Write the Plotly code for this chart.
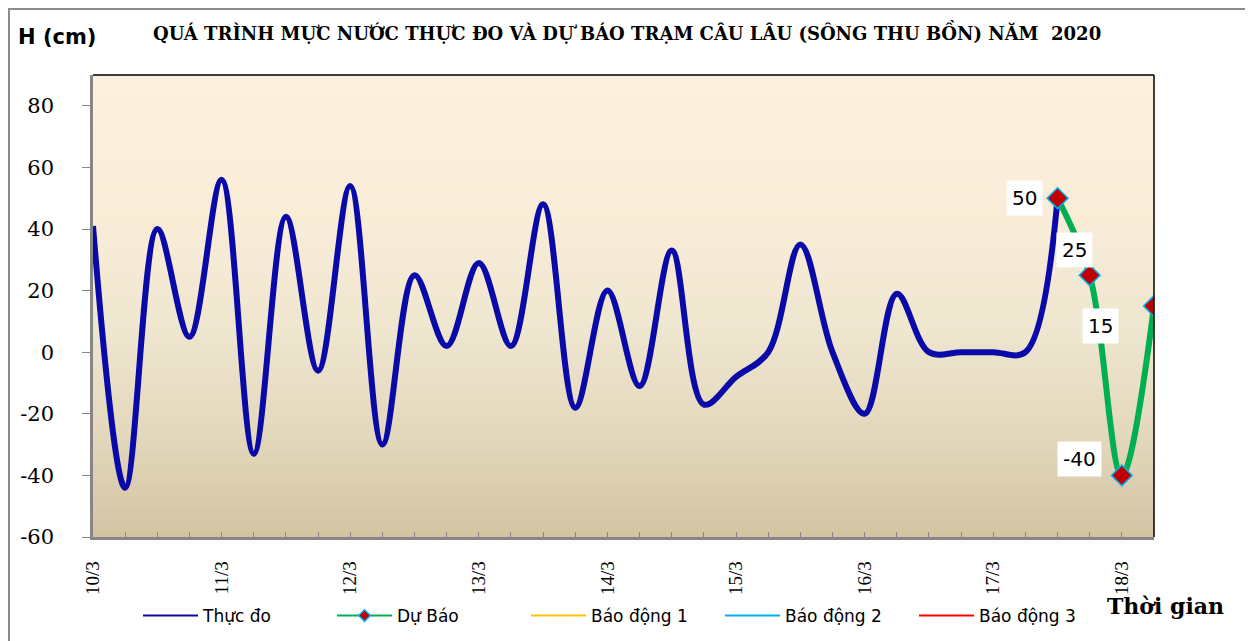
import plotly.graph_objects as go

# ---------------------------------------------------------------------------
# Data (6-hourly steps, 10/3 -> 18/3)
# ---------------------------------------------------------------------------
day_labels = ["10/3", "11/3", "12/3", "13/3", "14/3", "15/3", "16/3", "17/3", "18/3"]
steps_per_day = 4
y_ticks = [-60, -40, -20, 0, 20, 40, 60, 80]

thuc_do = [41, -44, 40, 5, 56, -33, 44, -6, 54, -30, 25, 2, 29, 2, 48, -18,
           20, -11, 33, -17, -8, 0, 35, 0, -20, 19, 0, 0, 0, 0, 50]
du_bao = [50, 25, -40, 15]
du_bao_start = len(thuc_do) - 1

x_thuc_do = list(range(len(thuc_do)))
x_du_bao = [du_bao_start + i for i in range(len(du_bao))]

# label offsets (px) for the forecast values
label_shift = [(-33, 0), (-15, 25), (-42, 16), (-54, -20)]

# ---------------------------------------------------------------------------
# Style
# ---------------------------------------------------------------------------
NAVY = "#0A0AA8"
GREEN = "#00B050"
SERIF = "DejaVu Serif, serif"
SANS = "DejaVu Sans, Arial, sans-serif"
TIMES = "Liberation Serif, Times New Roman, serif"

OFF = 8                     # page margin of the html body
W, H = 1245, 633
L, R, T, B = 85, 99, 67, 104


def px_x(px):
    # screen pixel -> paper x
    return (px - OFF - L) / (W - L - R)


def px_y(py):
    # screen pixel -> paper y
    return (H - B - (py - OFF)) / (H - T - B)


fig = go.Figure()

fig.add_trace(go.Scatter(
    x=x_thuc_do, y=thuc_do, name="Thực đo", mode="lines", showlegend=False,
    line=dict(color=NAVY, width=6, shape="spline", smoothing=1.0),
))
fig.add_trace(go.Scatter(
    x=x_du_bao, y=du_bao, name="Dự Báo", mode="lines+markers", showlegend=False,
    line=dict(color=GREEN, width=6, shape="spline", smoothing=1.0),
    marker=dict(symbol="diamond", size=16, color="#C00000",
                line=dict(color="#00B0F0", width=1.5)),
))

# legend entries (thin symbols, as in the original)
fig.add_trace(go.Scatter(x=[None], y=[None], name="Thực đo", mode="lines",
                         line=dict(color=NAVY, width=2)))
fig.add_trace(go.Scatter(x=[None], y=[None], name="Dự Báo", mode="lines+markers",
                         line=dict(color=GREEN, width=2),
                         marker=dict(symbol="diamond", size=9, color="#C00000",
                                     line=dict(color="#00B0F0", width=1.5))))
for name, col in [("Báo động 1", "#FFC000"), ("Báo động 2", "#00B0F0"), ("Báo động 3", "#FF0000")]:
    fig.add_trace(go.Scatter(x=[None], y=[None], name=name, mode="lines",
                             line=dict(color=col, width=2)))

# forecast value labels
for (xv, yv), (dx, dy) in zip(zip(x_du_bao, du_bao), label_shift):
    fig.add_annotation(x=xv, y=yv, text=f"{yv}", showarrow=False,
                       xshift=dx, yshift=dy, bgcolor="white", borderpad=5,
                       font=dict(family=SANS, size=20, color="black"))

# gradient background in bands
stops = [(0.0, (210, 195, 162)), (0.2, (226, 214, 186)), (0.45, (239, 230, 208)),
         (0.7, (249, 237, 216)), (1.0, (253, 241, 222))]


def grad(t):
    for (t0, c0), (t1, c1) in zip(stops[:-1], stops[1:]):
        if t0 <= t <= t1:
            f = (t - t0) / (t1 - t0)
            return "rgb(%d,%d,%d)" % tuple(round(a + (b - a) * f) for a, b in zip(c0, c1))
    return "rgb(%d,%d,%d)" % stops[-1][1]


n_bands = 80
shapes = []
for i in range(n_bands):
    shapes.append(dict(type="rect", xref="paper", yref="paper", layer="below",
                       x0=0, x1=1, y0=i / n_bands, y1=(i + 1) / n_bands + 0.002,
                       line=dict(width=0), fillcolor=grad((i + 0.5) / n_bands)))
# black top/right plot border
shapes.append(dict(type="line", xref="paper", yref="paper", x0=0, x1=1, y0=1, y1=1,
                   line=dict(color="black", width=1.5)))
shapes.append(dict(type="line", xref="paper", yref="paper", x0=1, x1=1, y0=0, y1=1,
                   line=dict(color="black", width=1.5)))
# outer frame
shapes.append(dict(type="rect", xref="paper", yref="paper",
                   x0=px_x(9), x1=px_x(1246), y0=px_y(660), y1=px_y(9),
                   line=dict(color="#8C8C8C", width=2)))

paper_text = dict(xref="paper", yref="paper", showarrow=False,
                  xanchor="center", yanchor="middle")
fig.add_annotation(text="QUÁ TRÌNH MỰC NƯỚC THỰC ĐO VÀ DỰ BÁO TRẠM CÂU LÂU (SÔNG THU BỒN) NĂM  2020",
                   x=px_x(627), y=px_y(32), **paper_text,
                   font=dict(family=SERIF, size=18, color="black", weight="bold"))
fig.add_annotation(text="H (cm)", x=px_x(57), y=px_y(37), **paper_text,
                   font=dict(family=SANS, size=21, color="black", weight="bold"))
fig.add_annotation(text="Thời gian", x=px_x(1165), y=px_y(606), **paper_text,
                   font=dict(family=SERIF, size=22, color="black", weight="bold"))

fig.update_layout(
    width=W, height=H,
    margin=dict(l=L, r=R, t=T, b=B, autoexpand=False),
    paper_bgcolor="white",
    plot_bgcolor="rgba(0,0,0,0)",
    shapes=shapes,
    showlegend=True,
    legend=dict(orientation="h", x=px_x(138), y=px_y(598), xanchor="left", yanchor="top",
                font=dict(family=SANS, size=17, color="black"),
                itemwidth=55, entrywidth=124, entrywidthmode="pixels"),
    xaxis=dict(
        range=[0, len(thuc_do) + len(du_bao) - 2],
        tickvals=[i * steps_per_day for i in range(len(day_labels))],
        ticktext=day_labels,
        tickangle=-90,
        ticks="inside", ticklen=5, tickcolor="#868686",
        minor=dict(dtick=1, ticks="inside", ticklen=5, tickcolor="#868686"),
        tickfont=dict(family=TIMES, size=19, color="black"),
        ticklabelstandoff=14,
        showgrid=False, zeroline=False,
        showline=True, linecolor="#868686", linewidth=2.5,
    ),
    yaxis=dict(
        range=[-60, 90],
        tickvals=y_ticks,
        ticktext=[str(v) for v in y_ticks],
        ticks="outside", ticklen=8, tickcolor="#868686",
        tickfont=dict(family=SERIF, size=21, color="black"),
        ticklabelstandoff=24,
        showgrid=False, zeroline=False,
        showline=True, linecolor="#868686", linewidth=2.5,
    ),
)

fig.write_html("out.html")
